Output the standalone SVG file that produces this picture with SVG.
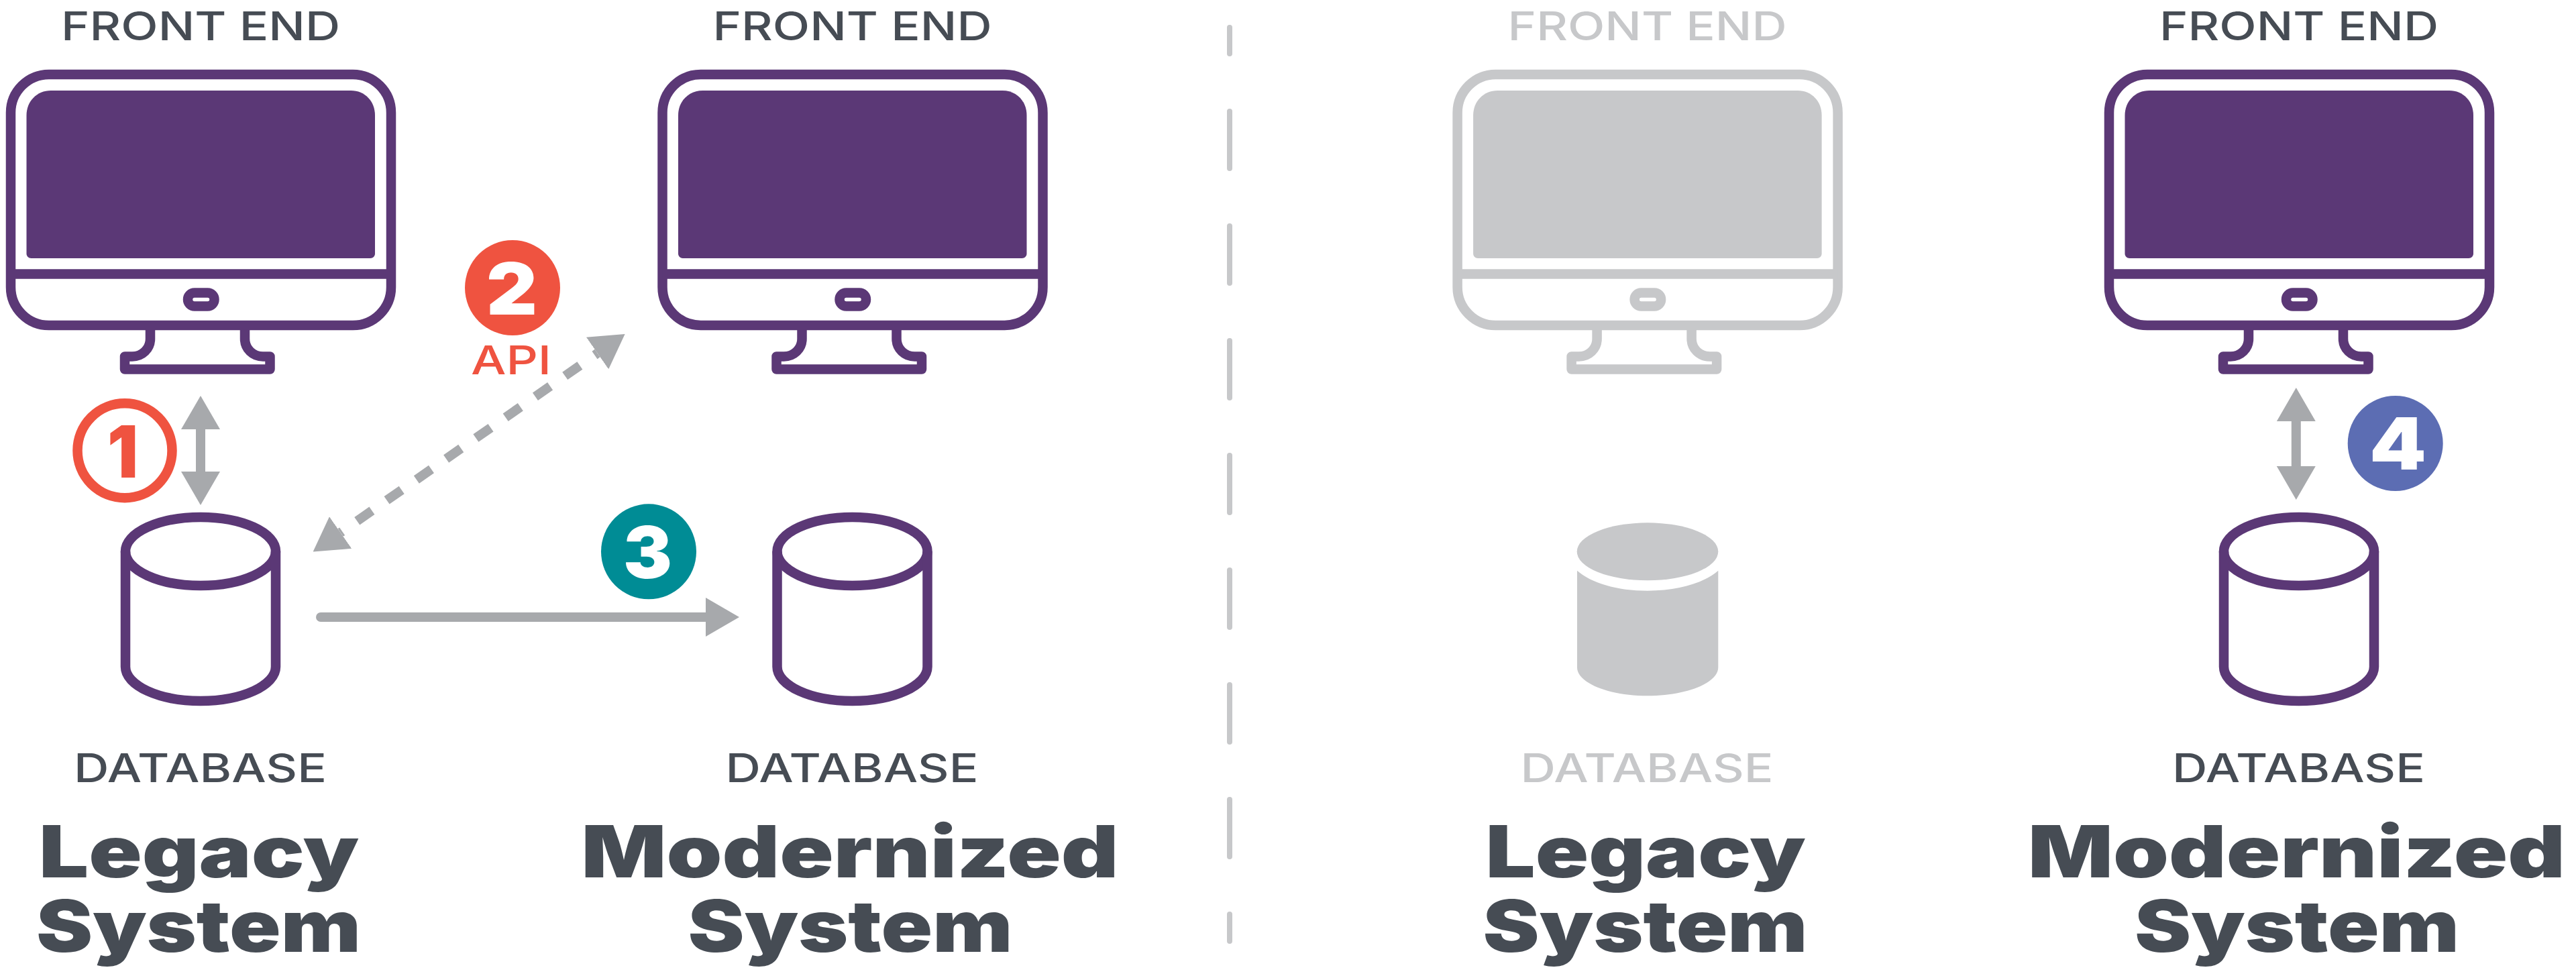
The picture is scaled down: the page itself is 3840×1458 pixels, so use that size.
<svg xmlns="http://www.w3.org/2000/svg" width="3840" height="1458" viewBox="0 0 3840 1458">
<style>
.art{fill:none;stroke:currentColor;stroke-width:14.5;stroke-linejoin:round}
.solid{fill:currentColor;stroke:none}
.purple{color:#5B3876}
.pale{color:#C7C8CA}
text{font-family:Inter,"Liberation Sans",sans-serif}
.lbl{font-size:59px;font-weight:500;fill:#464C54}
.lbl.off{fill:#C7C8CA}
.ttl{font-size:107px;font-weight:900;fill:#464C54}
.num{font-size:107px;font-weight:900;fill:#fff}
.conn{fill:none;stroke:#A7A9AC;stroke-width:14}
</style>
<defs>
<marker id="head" markerUnits="userSpaceOnUse" markerWidth="50" markerHeight="58" refX="0" refY="29" orient="auto-start-reverse"><path d="M0 0L50 29L0 58Z" fill="#A7A9AC"/></marker>
<g id="monitor">
<rect class="art" x="16" y="111" width="567" height="374" rx="57" ry="57"/>
<path class="art" d="M16 408.500H583"/>
<path class="solid" d="M39.500 172C39.500 151 55 135 76 135H523C544 135 559 151 559 172V378C559 382 556 385 552 385H46.500C42.500 385 39.500 382 39.500 378Z"/>
<rect class="art" x="280" y="436.500" width="39.500" height="20" rx="10"/>
<path class="art" d="M224 490V505C224 520 212 531.500 197 531.500H186V550.500H402.500V531.500H392C377 531.500 365 520 365 505V490"/>
</g>
<g id="cylinder">
<ellipse class="art" cx="299" cy="822" rx="112" ry="51"/>
<path class="art" d="M187 822V994C187 1022 237 1045 299 1045S411 1022 411 994V822"/>
</g>
</defs>
<rect width="3840" height="1458" fill="#fff"/>

<g id="legacy-frontend" class="purple"><use href="#monitor"/><text class="lbl" x="91" y="60" textLength="416" lengthAdjust="spacingAndGlyphs">FRONT END</text></g>
<g id="legacy-database" class="purple"><use href="#cylinder"/><text class="lbl" x="110" y="1166" textLength="377" lengthAdjust="spacingAndGlyphs">DATABASE</text></g>
<g id="legacy-title"><text class="ttl" x="58" y="1308" textLength="477" lengthAdjust="spacingAndGlyphs">Legacy</text><text class="ttl" x="54" y="1419" textLength="484" lengthAdjust="spacingAndGlyphs">System</text></g>

<g id="modern-frontend" class="purple"><use href="#monitor" x="971.500"/><text class="lbl" x="1062.500" y="60" textLength="416" lengthAdjust="spacingAndGlyphs">FRONT END</text></g>
<g id="modern-database" class="purple"><use href="#cylinder" x="971.500"/><text class="lbl" x="1081.500" y="1166" textLength="377" lengthAdjust="spacingAndGlyphs">DATABASE</text></g>
<g id="modern-title"><text class="ttl" x="866.500" y="1308" textLength="801" lengthAdjust="spacingAndGlyphs">Modernized</text><text class="ttl" x="1025.500" y="1419" textLength="484" lengthAdjust="spacingAndGlyphs">System</text></g>

<g id="legacy-frontend-off" class="pale"><use href="#monitor" x="2156.600"/><text class="lbl off" x="2247.600" y="60" textLength="416" lengthAdjust="spacingAndGlyphs">FRONT END</text></g>
<g id="legacy-database-off" class="pale"><path class="solid" d="M2351 850.700C2372 869 2410 880.700 2456 880.700S2540 869 2561.300 850.700V995C2561.300 1018 2514 1037.300 2456 1037.300S2351 1018 2351 995Z"/><ellipse class="solid" cx="2456" cy="822.300" rx="105.300" ry="43"/><text class="lbl off" x="2266.600" y="1166" textLength="377" lengthAdjust="spacingAndGlyphs">DATABASE</text></g>
<g id="legacy-title-2"><text class="ttl" x="2214.600" y="1308" textLength="477" lengthAdjust="spacingAndGlyphs">Legacy</text><text class="ttl" x="2210.600" y="1419" textLength="484" lengthAdjust="spacingAndGlyphs">System</text></g>

<g id="modern-frontend-2" class="purple"><use href="#monitor" x="3128"/><text class="lbl" x="3219" y="60" textLength="416" lengthAdjust="spacingAndGlyphs">FRONT END</text></g>
<g id="modern-database-2" class="purple"><use href="#cylinder" x="3128"/><text class="lbl" x="3238" y="1166" textLength="377" lengthAdjust="spacingAndGlyphs">DATABASE</text></g>
<g id="modern-title-2"><text class="ttl" x="3023" y="1308" textLength="801" lengthAdjust="spacingAndGlyphs">Modernized</text><text class="ttl" x="3182" y="1419" textLength="484" lengthAdjust="spacingAndGlyphs">System</text></g>

<g id="connectors">
<path class="conn" d="M299 640V703" marker-start="url(#head)" marker-end="url(#head)"/>
<path class="conn" d="M890.600 526.600L507.600 794" stroke-dasharray="27 27" stroke-dashoffset="22" marker-start="url(#head)" marker-end="url(#head)"/>
<path class="conn" d="M478 920H1052" stroke-linecap="round" marker-end="url(#head)"/>
<path class="conn" d="M3422.800 628V695" marker-start="url(#head)" marker-end="url(#head)"/>
</g>

<g id="divider"><path d="M1833 41V1403" fill="none" stroke="#C7C8CA" stroke-width="8" stroke-linecap="round" stroke-dasharray="85 86" stroke-dashoffset="46"/></g>

<g id="badge-1"><circle cx="186" cy="671.700" r="70.500" fill="#fff" stroke="#EF5340" stroke-width="14.500"/><text class="num" style="fill:#EF5340" x="160" y="712" textLength="46" lengthAdjust="spacingAndGlyphs">1</text></g>
<g id="badge-2"><circle cx="764" cy="429" r="71" fill="#EF5340"/><text class="num" x="725" y="469" textLength="76" lengthAdjust="spacingAndGlyphs">2</text><text class="lbl" style="fill:#EF5340" x="702" y="557.500" textLength="120" lengthAdjust="spacingAndGlyphs">API</text></g>
<g id="badge-3"><circle cx="967" cy="822.300" r="71" fill="#008C95"/><text class="num" x="929" y="862" textLength="73" lengthAdjust="spacingAndGlyphs">3</text></g>
<g id="badge-4"><circle cx="3570.700" cy="661" r="71" fill="#5C6DB3"/><text class="num" x="3532" y="700" textLength="85" lengthAdjust="spacingAndGlyphs">4</text></g>
</svg>
